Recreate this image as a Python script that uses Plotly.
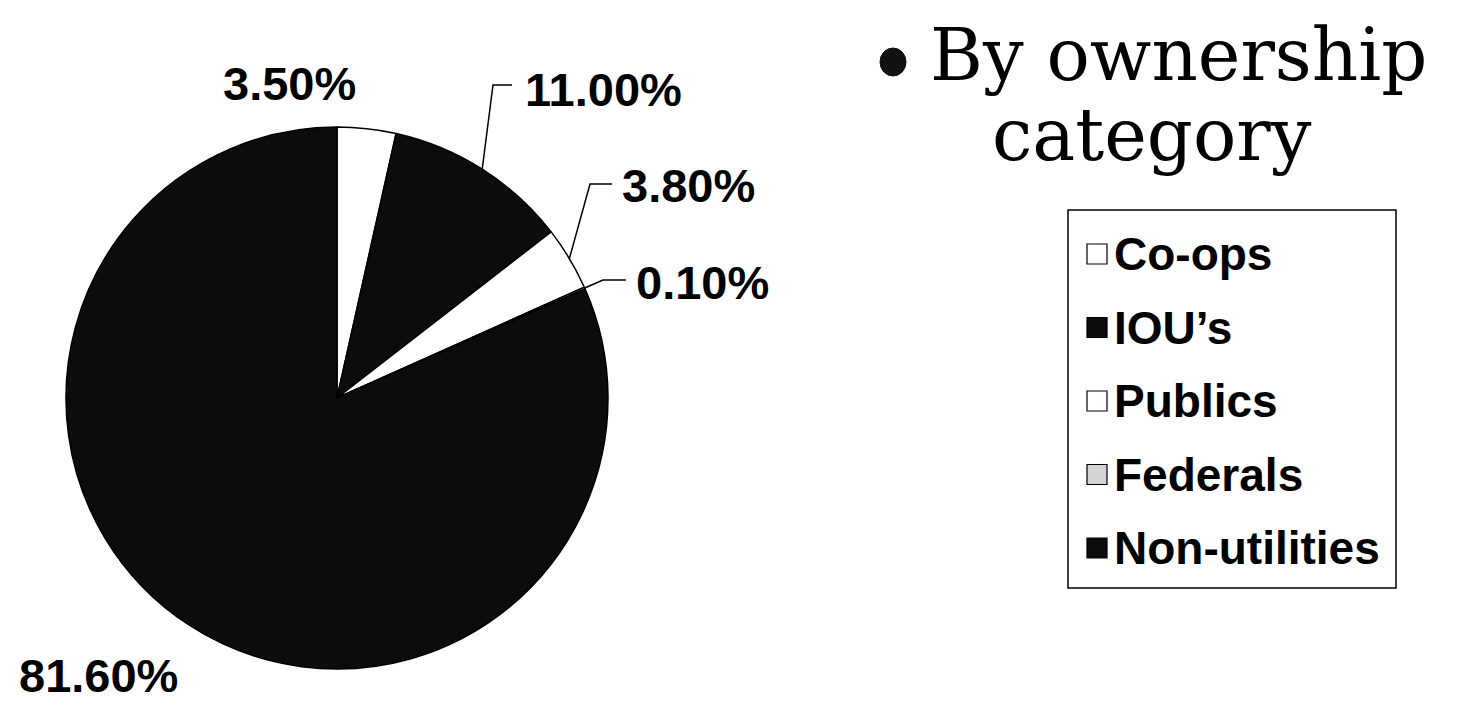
import math
import plotly.graph_objects as go

# ---- data ----
categories = ["Co-ops", "IOU's", "Publics", "Federals", "Non-utilities"]
legend_labels = ["Co-ops", "IOU\u2019s", "Publics", "Federals", "Non-utilities"]
shares = [3.5, 11.0, 3.8, 0.1, 81.6]
label_text = ["3.50%", "11.00%", "3.80%", "0.10%", "81.60%"]
slice_colors = ["#ffffff", "#0c0c0c", "#ffffff", "#d4d4d4", "#0c0c0c"]

W, H = 1460, 705
cx, cy, R = 337, 398, 271  # pixel centre / radius of pie


def px(x):
    return x / W


def py(y):
    return 1 - y / H


fig = go.Figure()
fig.add_trace(go.Pie(
    labels=categories,
    values=shares,
    sort=False,
    direction="clockwise",
    rotation=0,
    textinfo="none",
    hoverinfo="label+percent",
    marker=dict(colors=slice_colors, line=dict(color="#000000", width=1.5)),
    domain=dict(x=[px(cx - R), px(cx + R)], y=[py(cy + R), py(cy - R)]),
    showlegend=False,
))

# ---- percentage labels ----
font_lbl = dict(family="Liberation Sans, Arial, sans-serif", size=47, color="#000000")
label_pos = {
    0: (289, 83, "middle", False),
    1: (603, 90, "middle", True),
    2: (688, 185, "middle", True),
    3: (702, 282, "middle", True),
    4: (98, 704, "bottom", False),
}
elbow = {1: (493, 85), 2: (590, 184), 3: (603, 280)}
line_end = {1: 512, 2: 612, 3: 626}

total = sum(shares)
cum = 0.0
mids = []
for v in shares:
    mids.append((cum + v / 2) / total)
    cum += v

annotations = []
shapes = []
for i, (x, y, ya, lead) in label_pos.items():
    annotations.append(dict(
        x=px(x), y=py(y), xref="paper", yref="paper",
        text="<b>%s</b>" % label_text[i], showarrow=False,
        font=font_lbl, xanchor="center", yanchor=ya,
    ))
    if lead:
        ang = 2 * math.pi * mids[i]
        sx = cx + R * math.sin(ang)
        sy = cy - R * math.cos(ang)
        ex, ey = elbow[i]
        path = "M %f %f L %f %f L %f %f" % (px(sx), py(sy), px(ex), py(ey), px(line_end[i]), py(ey))
        shapes.append(dict(type="path", path=path, xref="paper", yref="paper",
                           line=dict(color="#000000", width=1.5)))

# ---- title with bullet ----
shapes.append(dict(type="circle", xref="paper", yref="paper",
                   x0=px(880), x1=px(906), y0=py(76), y1=py(48),
                   fillcolor="#111111", line=dict(color="#111111", width=1)))
font_title = dict(family="DejaVu Serif, serif", size=72, color="#000000")
annotations.append(dict(x=px(928), y=py(55), xref="paper", yref="paper",
                        text="By ownership", showarrow=False, font=font_title,
                        xanchor="left", yanchor="middle"))
annotations.append(dict(x=px(990), y=py(135), xref="paper", yref="paper",
                        text="category", showarrow=False, font=font_title,
                        xanchor="left", yanchor="middle"))

# ---- legend (box, swatches, labels) ----
leg_x0, leg_x1, leg_y0, leg_y1 = 1068, 1396, 210, 588
shapes.append(dict(type="rect", xref="paper", yref="paper",
                   x0=px(leg_x0), x1=px(leg_x1), y0=py(leg_y1), y1=py(leg_y0),
                   line=dict(color="#000000", width=1.5), fillcolor="rgba(0,0,0,0)"))
row_y0, row_step = 254, 73.5
font_leg = dict(family="Liberation Sans, Arial, sans-serif", size=46, color="#000000")
for i, lab in enumerate(legend_labels):
    yc = row_y0 + i * row_step
    shapes.append(dict(type="rect", xref="paper", yref="paper",
                       x0=px(1087), x1=px(1107), y0=py(yc + 10), y1=py(yc - 10),
                       fillcolor=slice_colors[i], line=dict(color="#000000", width=1.2)))
    annotations.append(dict(x=px(1112), y=py(yc), xref="paper", yref="paper",
                            text="<b>%s</b>" % lab, showarrow=False, font=font_leg,
                            xanchor="left", yanchor="middle"))

fig.update_layout(
    width=W, height=H,
    margin=dict(l=0, r=0, t=0, b=0),
    paper_bgcolor="#ffffff", plot_bgcolor="#ffffff",
    annotations=annotations,
    shapes=shapes,
    showlegend=False,
)

fig.write_html("out.html")
